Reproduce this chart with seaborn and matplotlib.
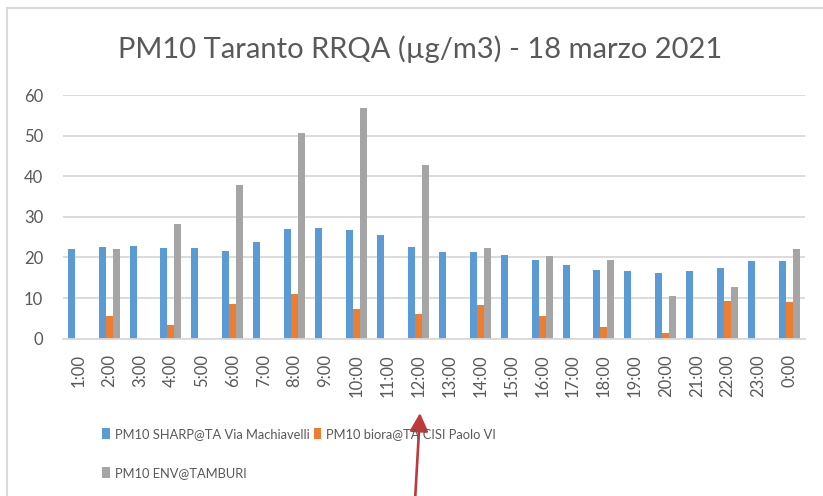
import numpy as np
import pandas as pd
import matplotlib
matplotlib.use("Agg")
import matplotlib.pyplot as plt
from matplotlib.patches import Patch
from matplotlib.lines import Line2D
import seaborn as sns

nan = np.nan
hours = ["1:00", "2:00", "3:00", "4:00", "5:00", "6:00", "7:00", "8:00", "9:00", "10:00",
         "11:00", "12:00", "13:00", "14:00", "15:00", "16:00", "17:00", "18:00", "19:00",
         "20:00", "21:00", "22:00", "23:00", "0:00"]
sharp = [22.0, 22.6, 22.8, 22.3, 22.3, 21.7, 23.9, 27.0, 27.3, 26.8, 25.6, 22.6,
         21.4, 21.4, 20.6, 19.4, 18.1, 16.9, 16.7, 16.1, 16.7, 17.5, 19.1, 19.1]
biora = [nan, 5.7, nan, 3.4, nan, 8.5, nan, 11.0, nan, 7.3, nan, 6.2,
         nan, 8.2, nan, 5.7, nan, 2.9, nan, 1.5, nan, 9.4, nan, 9.0]
env = [nan, 22.0, nan, 28.2, nan, 37.8, nan, 50.7, nan, 56.8, nan, 42.8,
       nan, 22.3, nan, 20.4, nan, 19.4, nan, 10.4, nan, 12.7, nan, 22.0]
series_names = ["PM10 SHARP@TA Via Machiavelli", "PM10 biora@TA CISI Paolo VI", "PM10 ENV@TAMBURI"]
colors = ["#5B9BD5", "#ED7D31", "#A5A5A5"]
title = "PM10 Taranto RRQA (\u00b5g/m3) - 18 marzo 2021"
yticks = [0, 10, 20, 30, 40, 50, 60]

rows = []
for name, vals in zip(series_names, [sharp, biora, env]):
    for h, v in zip(hours, vals):
        rows.append({"hour": h, "series": name, "value": v})
df = pd.DataFrame(rows)

sns.set_theme(style="white")
plt.rcParams["font.family"] = ["Lato", "DejaVu Sans"]

W, H = 823, 496
fig = plt.figure(figsize=(W / 100, H / 100), dpi=100)
ax = fig.add_axes([62.7 / W, 1 - 338.7 / H, (805 - 62.7) / W, (338.7 - 95) / H])

sns.barplot(data=df, x="hour", y="value", hue="series", order=hours,
            hue_order=series_names, palette=colors, width=0.68, saturation=1,
            edgecolor="none", linewidth=0, ax=ax, legend=False, errorbar=None)

ax.set_ylim(0, 60)
ax.set_xlim(-0.5, len(hours) - 0.5)
ax.set_yticks(yticks)
ax.set_yticklabels([str(t) for t in yticks])
ax.yaxis.grid(True, color="#d9d9d9", linewidth=1.3)
ax.set_axisbelow(True)
for s in ["top", "right", "left"]:
    ax.spines[s].set_visible(False)
ax.spines["bottom"].set_color("#d9d9d9")
ax.spines["bottom"].set_linewidth(1.3)
ax.set_xlabel("")
ax.set_ylabel("")
ax.tick_params(axis="y", length=0, pad=14, labelsize=12, labelcolor="#595959")
ax.tick_params(axis="x", length=0, pad=11, labelsize=12, labelcolor="#595959", rotation=90)

fig.text(420 / W, 1 - 58.3 / H, title, ha="center", va="baseline", fontsize=21, color="#595959")

# chart border
fig.add_artist(Line2D([7 / W, 7 / W], [0, 1 - 8 / H], transform=fig.transFigure,
                      color="#d9d9d9", linewidth=1.5))
fig.add_artist(Line2D([7 / W, 1], [1 - 8 / H, 1 - 8 / H], transform=fig.transFigure,
                      color="#d9d9d9", linewidth=1.5))

handles = [Patch(facecolor=c, edgecolor="none") for c in colors]
order = [0, 2, 1]
leg = fig.legend([handles[i] for i in order], [series_names[i] for i in order],
                 ncol=2, loc="upper left", bbox_to_anchor=(102 / W, 1 - 428 / H),
                 frameon=False, handlelength=0.6, handleheight=0.95, handletextpad=0.4,
                 columnspacing=0.3, labelspacing=2.1, borderpad=0, borderaxespad=0,
                 prop={"family": ["Lato"], "size": 9.3})
for t in leg.get_texts():
    t.set_color("#595959")

ax.annotate("", xy=(420, H - 413), xytext=(415, -5), xycoords="figure pixels",
            textcoords="figure pixels", annotation_clip=False,
            arrowprops=dict(arrowstyle="-|>,head_width=0.28,head_length=0.55",
                            mutation_scale=20, lw=1.9, color="#BE3A3A",
                            shrinkA=0, shrinkB=0))

fig.savefig("out.png", dpi=100)
